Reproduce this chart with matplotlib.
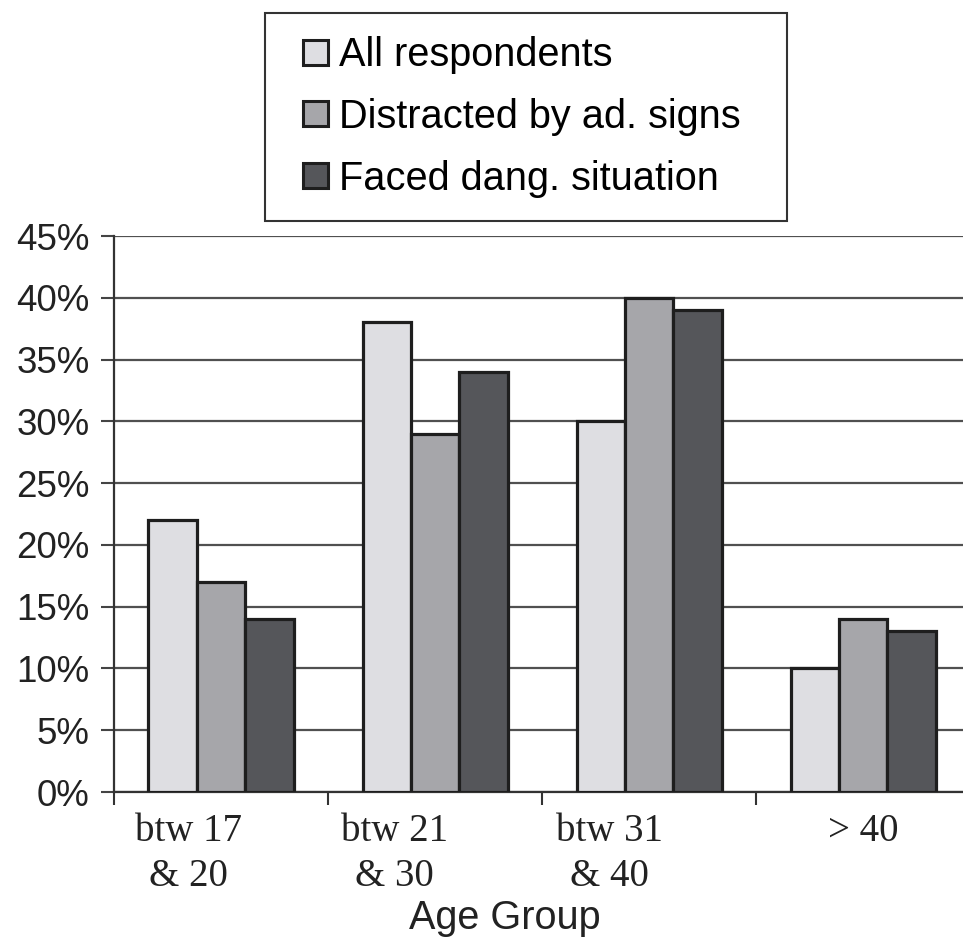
import numpy as np
import matplotlib.pyplot as plt
from matplotlib.patches import Rectangle
from matplotlib.legend_handler import HandlerPatch
from matplotlib.ticker import PercentFormatter

# survey results by age group (percent of respondents)
groups = ["btw 17\n& 20", "btw 21\n& 30", "btw 31\n& 40", "> 40"]
series_names = ["All respondents", "Distracted by ad. signs", "Faced dang. situation"]
all_resp = [22, 38, 30, 10]
distracted = [17, 29, 40, 14]
faced_danger = [14, 34, 39, 13]
colors = ["#dedee2", "#a6a6aa", "#55565a"]
# wrapped category labels sit a little left of their bar groups
label_shift = [-0.15, -0.19, -0.185, 0.0]


def square_patch(legend, orig_handle, xdescent, ydescent, width, height, fontsize):
    # small square pushed to the right end of the handle slot
    side = 0.63 * fontsize
    return Rectangle((-xdescent + width - side, -ydescent + (height - side) / 2), side, side)


fig = plt.figure(figsize=(9.63, 9.44), dpi=100)
ax = fig.add_axes([0.1184, 0.161, 0.889, 0.589])

x = np.arange(len(groups))
width = 0.226
handles = []
for i, (vals, name) in enumerate(zip([all_resp, distracted, faced_danger], series_names)):
    bars = ax.bar(x + (i - 1) * width, vals, width, color=colors[i], edgecolor="#1e1e1e",
                  linewidth=2.3, label=name, zorder=3)
    handles.append(bars.patches[0])

ax.set_xlim(-0.5, len(groups) - 0.5)
ax.set_ylim(0, 45)
ax.set_yticks(np.arange(0, 46, 5))
ax.yaxis.set_major_formatter(PercentFormatter(decimals=0))
ax.yaxis.grid(True, color="#505050", linewidth=1.6, zorder=0)
ax.set_axisbelow(True)

# category labels between boundary ticks
ax.set_xticks(np.arange(len(groups) + 1) - 0.5)
ax.set_xticklabels([])
ax.set_xticks(x + np.array(label_shift), minor=True)
ax.set_xticklabels(groups, minor=True, family="Liberation Serif", fontsize=28,
                   linespacing=1.3, color="#222222")
ax.tick_params(axis="x", which="minor", length=0, pad=15)
ax.tick_params(axis="x", which="major", length=9, width=1.5, color="#333333")
ax.tick_params(axis="y", length=9.5, width=1.5, color="#444444", pad=8)
for lab in ax.get_yticklabels():
    lab.set_family("Liberation Sans")
    lab.set_fontsize(26.5)
    lab.set_color("#222222")

for side in ["top", "right"]:
    ax.spines[side].set_visible(False)
for side in ["left", "bottom"]:
    ax.spines[side].set_linewidth(1.6)
    ax.spines[side].set_color("#333333")

ax.set_xlabel("Age Group", family="Liberation Sans", fontsize=28.5, color="#222222")
ax.xaxis.set_label_coords(0.457, -0.193)

leg = fig.legend(handles, series_names, loc="upper left", mode="expand",
                 bbox_to_anchor=(265 / 963, 1 - 219 / 944, 522 / 963, 206 / 944),
                 prop={"family": "Liberation Sans", "size": 28.6}, fancybox=False,
                 handlelength=1.0, handleheight=0.63, handletextpad=0.28,
                 labelspacing=0.6, borderpad=0.58, borderaxespad=0,
                 edgecolor="#333333", framealpha=1,
                 handler_map={Rectangle: HandlerPatch(patch_func=square_patch)})
leg.get_frame().set_linewidth(1.5)
for h in leg.legend_handles:
    h.set_linewidth(2.2)

fig.savefig("out.png", dpi=100)
